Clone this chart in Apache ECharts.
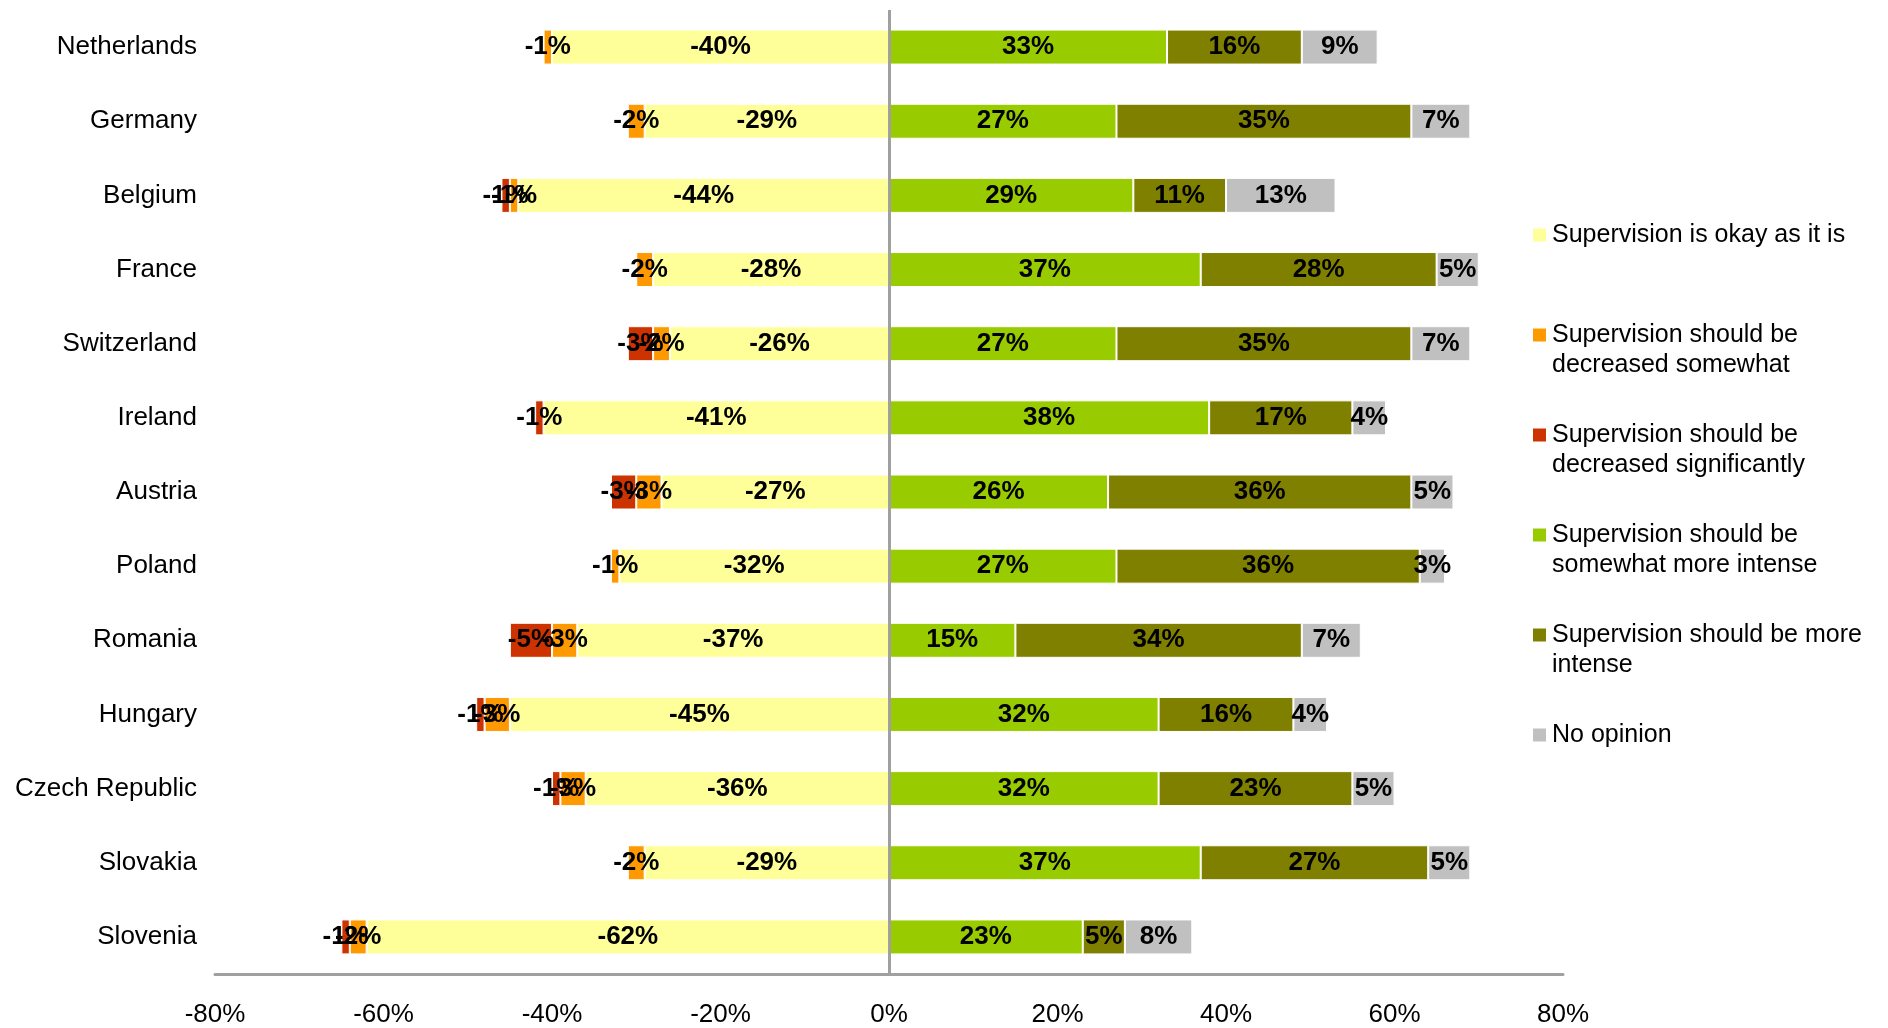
<!DOCTYPE html>
<html>
<head>
<meta charset="utf-8">
<title>Views on supervision by country</title>
<script src="https://cdn.jsdelivr.net/npm/echarts@6/dist/echarts.min.js"></script>
<style>
  html, body { margin: 0; padding: 0; background: #fff; }
  #chart { width: 1888px; height: 1028px; }
</style>
</head>
<body>
<div id="chart"></div>
<script>
// Countries, top to bottom
const categories = ['Netherlands', 'Germany', 'Belgium', 'France', 'Switzerland', 'Ireland',
  'Austria', 'Poland', 'Romania', 'Hungary', 'Czech Republic', 'Slovakia', 'Slovenia'];

// Left side (drawn as negative shares, %)
const okayAsItIs        = [-40, -29, -44, -28, -26, -41, -27, -32, -37, -45, -36, -29, -62];
const decreaseSomewhat  = [-1, -2, -1, -2, -2, null, -3, -1, -3, -3, -3, -2, -2];
const decreaseStrongly  = [null, null, -1, null, -3, -1, -3, null, -5, -1, -1, null, -1];

// Right side (positive shares, %)
const moreSomewhat      = [33, 27, 29, 37, 27, 38, 26, 27, 15, 32, 32, 37, 23];
const moreIntense       = [16, 35, 11, 28, 35, 17, 36, 36, 34, 16, 23, 27, 5];
const noOpinion         = [9, 7, 13, 5, 7, 4, 5, 3, 7, 4, 5, 5, 8];

// Value axis ticks
const axisMin = -80, axisMax = 80, axisStep = 20;

const seriesNames = [
  'Supervision is okay as it is',
  'Supervision should be decreased somewhat',
  'Supervision should be decreased significantly',
  'Supervision should be somewhat more intense',
  'Supervision should be more intense',
  'No opinion'
];
// Legend text, broken into lines
const legendLines = [
  ['Supervision is okay as it is'],
  ['Supervision should be', 'decreased somewhat'],
  ['Supervision should be', 'decreased significantly'],
  ['Supervision should be', 'somewhat more intense'],
  ['Supervision should be more', 'intense'],
  ['No opinion']
];
const seriesColors = ['#FFFF99', '#FF9900', '#CC3300', '#99CC00', '#808000', '#C0C0C0'];
const seriesData = [okayAsItIs, decreaseSomewhat, decreaseStrongly, moreSomewhat, moreIntense, noOpinion];

const FONT = "'Liberation Sans', Arial, Helvetica, sans-serif";

const chart = echarts.init(document.getElementById('chart'), null, { renderer: 'canvas' });

const series = seriesNames.map((name, i) => ({
  name: name,
  type: 'bar',
  stack: 'total',
  barWidth: 35,
  data: seriesData[i],
  itemStyle: { color: seriesColors[i], borderColor: '#ffffff', borderWidth: 1 },
  label: {
    show: true,
    position: 'inside',
    color: '#000',
    fontFamily: FONT,
    fontWeight: 'bold',
    fontSize: 26,
    formatter: p => (p.value === null || p.value === undefined) ? '' : p.value + '%'
  },
  emphasis: { disabled: true }
}));

// Vertical zero line
series[0].markLine = {
  silent: true,
  symbol: 'none',
  label: { show: false },
  lineStyle: { color: '#a0a0a0', width: 3, type: 'solid' },
  data: [{ xAxis: 0 }]
};

const option = {
  animation: false,
  backgroundColor: '#ffffff',
  grid: { left: 215, right: 325, top: 10, bottom: 53, containLabel: false },
  legend: {
    orient: 'vertical',
    left: 1531,
    top: 190,
    padding: 0,
    itemGap: 10,
    itemWidth: 15,
    itemHeight: 15,
    icon: 'rect',
    selectedMode: false,
    data: seriesNames,
    textStyle: { color: '#000', fontFamily: FONT, fontSize: 25, lineHeight: 30 },
    formatter: name => {
      const lines = legendLines[seriesNames.indexOf(name)];
      return ' \n' + lines.join('\n') + (lines.length === 1 ? '\n ' : '');
    }
  },
  xAxis: {
    type: 'value',
    min: axisMin,
    max: axisMax,
    interval: axisStep,
    splitLine: { show: false },
    axisTick: { show: false },
    axisLine: { show: true, onZero: false, lineStyle: { color: '#a0a0a0', width: 3 } },
    axisLabel: { color: '#000', fontFamily: FONT, fontSize: 26, margin: 28, formatter: '{value}%' }
  },
  yAxis: {
    type: 'category',
    inverse: true,
    data: categories,
    axisLine: { show: false },
    axisTick: { show: false },
    splitLine: { show: false },
    axisLabel: { color: '#000', fontFamily: FONT, fontSize: 26, margin: 18 }
  },
  series: series
};

chart.setOption(option);
</script>
</body>
</html>
